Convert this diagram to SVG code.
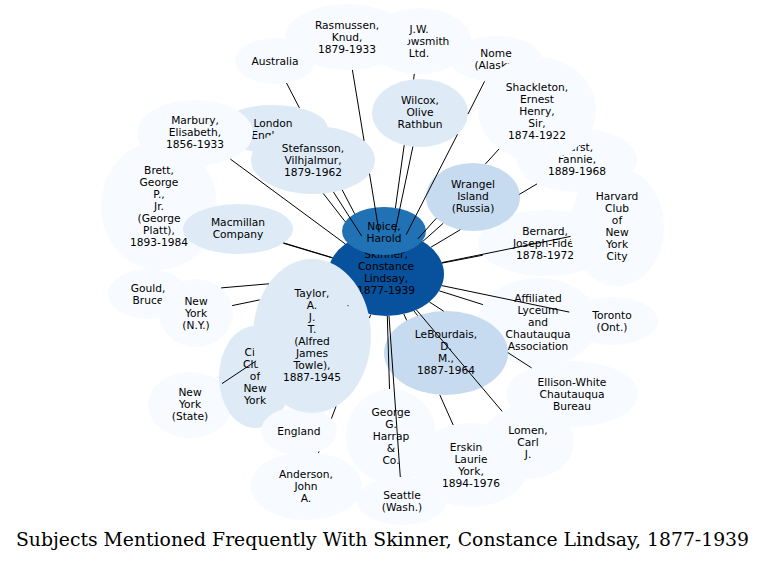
<svg xmlns="http://www.w3.org/2000/svg" width="765" height="562" viewBox="0 0 765 562">
<style>
.n0{fill:#f7fbff}.n1{fill:#deebf7}.n2{fill:#c6dbef}.n3{fill:#2171b5}.n4{fill:#08519c}
text{font-family:"DejaVu Sans","Liberation Sans",sans-serif;font-size:10.67px;text-anchor:middle;fill:#000}
.edges line{stroke:#000;stroke-width:1;fill:none}
.title{font-family:"DejaVu Serif","Liberation Serif",serif;font-size:18.8px}
</style>
<rect width="765" height="562" fill="#fff"/>
<g id="arrowsmith"><ellipse class="n0" cx="419" cy="41" rx="52" ry="33"/><text x="419" y="32.8">J.W.</text><text x="419" y="44.8">Arrowsmith</text><text x="419" y="56.8">Ltd.</text></g>
<g id="australia"><ellipse class="n0" cx="275" cy="61" rx="40" ry="23"/><text x="275" y="64.8">Australia</text></g>
<g id="rasmussen"><ellipse class="n0" cx="347" cy="37" rx="62" ry="33"/><text x="347" y="28.8">Rasmussen,</text><text x="347" y="40.8">Knud,</text><text x="347" y="52.8">1879-1933</text></g>
<g id="nome"><ellipse class="n0" cx="496" cy="59" rx="46" ry="23"/><text x="496" y="56.8">Nome</text><text x="496" y="68.8">(Alaska)</text></g>
<g id="bernard"><ellipse class="n0" cx="546" cy="243" rx="68" ry="33"/><text x="545" y="234.8">Bernard,</text><text x="545" y="246.8">Joseph-Fidé,</text><text x="545" y="258.8">1878-1972</text></g>
<g id="harvard"><ellipse class="n0" cx="617" cy="227" rx="47" ry="59"/><text x="617" y="199.8">Harvard</text><text x="617" y="211.8">Club</text><text x="617" y="223.8">of</text><text x="617" y="235.8">New</text><text x="617" y="247.8">York</text><text x="617" y="259.8">City</text></g>
<g id="hurst"><ellipse class="n0" cx="577" cy="160" rx="60" ry="32"/><text x="577" y="151.3">Hurst,</text><text x="577" y="163.3">Fannie,</text><text x="577" y="175.3">1889-1968</text></g>
<g id="shackleton"><ellipse class="n0" cx="537" cy="109" rx="59" ry="52"/><text x="537" y="91.3">Shackleton,</text><text x="537" y="103.3">Ernest</text><text x="537" y="115.3">Henry,</text><text x="537" y="127.3">Sir,</text><text x="537" y="139.3">1874-1922</text></g>
<g id="wilcox"><ellipse class="n1" cx="420" cy="113" rx="48" ry="34"/><text x="420" y="103.8">Wilcox,</text><text x="420" y="115.8">Olive</text><text x="420" y="127.8">Rathbun</text></g>
<g id="wrangel"><ellipse class="n2" cx="473" cy="197" rx="47" ry="34"/><text x="473" y="187.8">Wrangel</text><text x="473" y="199.8">Island</text><text x="473" y="211.8">(Russia)</text></g>
<g id="london"><ellipse class="n1" cx="273" cy="129" rx="55" ry="24"/><text x="273" y="126.8">London</text><text x="273" y="138.8">(England)</text></g>
<g id="brett"><ellipse class="n0" cx="159" cy="206" rx="58" ry="64"/><text x="159" y="173.8">Brett,</text><text x="159" y="185.8">George</text><text x="159" y="197.8">P.,</text><text x="159" y="209.8">Jr.</text><text x="159" y="221.8">(George</text><text x="159" y="233.8">Platt),</text><text x="159" y="245.8">1893-1984</text></g>
<g id="marbury"><ellipse class="n0" cx="195" cy="133" rx="58" ry="33"/><text x="195" y="124.3">Marbury,</text><text x="195" y="136.3">Elisabeth,</text><text x="195" y="148.3">1856-1933</text></g>
<g id="stefansson"><ellipse class="n1" cx="313" cy="160" rx="62" ry="34"/><text x="313" y="151.8">Stefansson,</text><text x="313" y="163.8">Vilhjalmur,</text><text x="313" y="175.8">1879-1962</text></g>
<g id="macmillan"><ellipse class="n1" cx="238" cy="229" rx="55" ry="25"/><text x="238" y="225.8">Macmillan</text><text x="238" y="237.8">Company</text></g>
<g id="gould"><ellipse class="n0" cx="148" cy="294" rx="40" ry="25"/><text x="148" y="291.8">Gould,</text><text x="148" y="303.8">Bruce</text></g>
<g id="newyork-ny"><ellipse class="n0" cx="196" cy="313" rx="37" ry="34"/><text x="196" y="304.8">New</text><text x="196" y="316.8">York</text><text x="196" y="328.8">(N.Y.)</text></g>
<g id="skinner"><ellipse class="n4" cx="386" cy="274" rx="58" ry="42"/><text x="386" y="258.3">Skinner,</text><text x="386" y="270.3">Constance</text><text x="386" y="282.3">Lindsay,</text><text x="386" y="294.3">1877-1939</text></g>
<g id="noice"><ellipse class="n3" cx="384" cy="231" rx="42" ry="24"/><text x="384" y="229.8">Noice,</text><text x="384" y="241.8">Harold</text></g>
<g id="newyork-state"><ellipse class="n0" cx="190" cy="405" rx="42" ry="33"/><text x="190" y="395.8">New</text><text x="190" y="407.8">York</text><text x="190" y="419.8">(State)</text></g>
<g id="cityclub"><ellipse class="n1" cx="255" cy="377" rx="36" ry="51"/><text x="255" y="355.8">City</text><text x="255" y="367.8">Club</text><text x="255" y="379.8">of</text><text x="255" y="391.8">New</text><text x="255" y="403.8">York</text></g>
<g id="anderson"><ellipse class="n0" cx="306" cy="486" rx="56" ry="34"/><text x="306" y="477.8">Anderson,</text><text x="306" y="489.8">John</text><text x="306" y="501.8">A.</text></g>
<g id="england"><ellipse class="n0" cx="299" cy="431" rx="38" ry="24"/><text x="299" y="434.8">England</text></g>
<g id="taylor"><ellipse class="n1" cx="312" cy="336" rx="59" ry="77"/><text x="312" y="296.8">Taylor,</text><text x="312" y="308.8">A.</text><text x="312" y="320.8">J.</text><text x="312" y="332.8">T.</text><text x="312" y="344.8">(Alfred</text><text x="312" y="356.8">James</text><text x="312" y="368.8">Towle),</text><text x="312" y="380.8">1887-1945</text></g>
<g id="harrap"><ellipse class="n0" cx="391" cy="436" rx="45" ry="47"/><text x="391" y="415.8">George</text><text x="391" y="427.8">G.</text><text x="391" y="439.8">Harrap</text><text x="391" y="451.8">&amp;</text><text x="391" y="463.8">Co.</text></g>
<g id="seattle"><ellipse class="n0" cx="402" cy="501" rx="45" ry="24"/><text x="402" y="498.8">Seattle</text><text x="402" y="510.8">(Wash.)</text></g>
<g id="erskine"><ellipse class="n0" cx="471" cy="465" rx="58" ry="42"/><text x="471" y="450.8">Erskine,</text><text x="471" y="462.8">Laurie</text><text x="471" y="474.8">York,</text><text x="471" y="486.8">1894-1976</text></g>
<g id="ellison"><ellipse class="n0" cx="572" cy="394" rx="66" ry="33"/><text x="572" y="385.8">Ellison-White</text><text x="572" y="397.8">Chautauqua</text><text x="572" y="409.8">Bureau</text></g>
<g id="lomen"><ellipse class="n0" cx="528" cy="442" rx="46" ry="37"/><text x="528" y="433.8">Lomen,</text><text x="528" y="445.8">Carl</text><text x="528" y="457.8">J.</text></g>
<g id="affiliated"><ellipse class="n0" cx="538" cy="322" rx="60" ry="44"/><text x="538" y="301.8">Affiliated</text><text x="538" y="313.8">Lyceum</text><text x="538" y="325.8">and</text><text x="538" y="337.8">Chautauqua</text><text x="538" y="349.8">Association</text></g>
<g id="lebourdais"><ellipse class="n2" cx="446" cy="353" rx="62" ry="42"/><text x="446" y="337.8">LeBourdais,</text><text x="446" y="349.8">D.</text><text x="446" y="361.8">M.,</text><text x="446" y="373.8">1887-1964</text></g>
<g id="toronto"><ellipse class="n0" cx="612" cy="321" rx="46" ry="24"/><text x="612" y="318.8">Toronto</text><text x="612" y="330.8">(Ont.)</text></g>
<g id="connectors" class="edges">
<line x1="286.5" y1="83" x2="299.4" y2="107.9"/><line x1="342.2" y1="189.9" x2="354.6" y2="213.7"/>
<line x1="352.4" y1="69.9" x2="364.1" y2="140.8"/><line x1="369.5" y1="173.7" x2="379.1" y2="232.3"/>
<line x1="414.3" y1="73.9" x2="413.6" y2="79.4"/><line x1="404.2" y1="145.2" x2="395.4" y2="208"/>
<line x1="412.9" y1="146.6" x2="394.8" y2="232.5"/>
<line x1="484.6" y1="81.3" x2="468" y2="114"/><line x1="457.5" y1="134.3" x2="406.2" y2="234.6"/>
<line x1="499.1" y1="148.9" x2="485.3" y2="164.1"/><line x1="436.4" y1="218.2" x2="417.8" y2="238.9"/>
<line x1="537" y1="183.9" x2="519.3" y2="194.4"/><line x1="460.3" y1="229.7" x2="430.8" y2="247.3"/>
<line x1="443.2" y1="223.3" x2="422.7" y2="241.5"/>
<line x1="442" y1="263.1" x2="482.8" y2="255.2"/>
<line x1="441.8" y1="262.6" x2="570.6" y2="236.4"/>
<line x1="439.2" y1="290.8" x2="482.9" y2="304.6"/>
<line x1="441.8" y1="285.6" x2="569.3" y2="312.1"/>
<line x1="429.3" y1="301.9" x2="443.7" y2="311.2"/><line x1="507.8" y1="352.6" x2="531.6" y2="367.9"/>
<line x1="413.9" y1="310.8" x2="417.6" y2="315.6"/>
<line x1="416.3" y1="309.8" x2="502.2" y2="411.4"/>
<line x1="403.8" y1="314" x2="406.7" y2="320.4"/><line x1="439.8" y1="394.9" x2="453.2" y2="425"/>
<line x1="389" y1="316" x2="400.3" y2="477"/>
<line x1="387.3" y1="316" x2="389.5" y2="389"/>
<line x1="370.7" y1="314.5" x2="369.4" y2="318.1"/><line x1="336" y1="406.5" x2="331.4" y2="418.6"/><line x1="319" y1="451.4" x2="318.5" y2="452.9"/>
<line x1="347.6" y1="305.2" x2="348.4" y2="306.2"/>
<line x1="256.1" y1="360.9" x2="222" y2="383.6"/>
<line x1="259.6" y1="299.9" x2="232.1" y2="305.6"/>
<line x1="268.9" y1="283.8" x2="221.1" y2="287.9"/>
<line x1="332.5" y1="257.7" x2="283.7" y2="242.9"/>
<line x1="332.4" y1="257.9" x2="283.2" y2="243.2"/>
<line x1="345.4" y1="244" x2="230.4" y2="159.1"/>
<line x1="323.3" y1="193.5" x2="345.3" y2="221.8"/>
<line x1="333.5" y1="192.1" x2="361.6" y2="235.9"/>
</g>
<text class="title" x="382.5" y="545.5">Subjects Mentioned Frequently With Skinner, Constance Lindsay, 1877-1939</text>
</svg>
